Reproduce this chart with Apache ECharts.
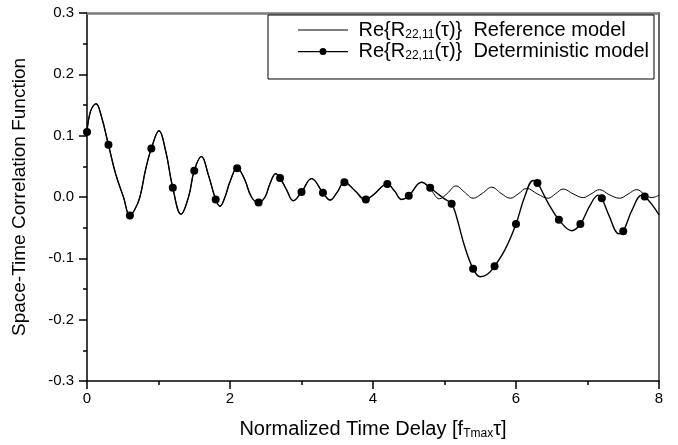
<!DOCTYPE html>
<html>
<head>
<meta charset="utf-8">
<script src="https://cdn.jsdelivr.net/npm/echarts@6/dist/echarts.min.js"></script>
<style>html,body{margin:0;padding:0;background:#fff}#c{width:678px;height:445px}</style>
</head>
<body>
<div id="c"></div>
<script>
// Reference model curve [tau, value]
const refCurve = [
 [0,0.106],[0.05,0.140],[0.126,0.152],[0.2,0.132],[0.3,0.085],[0.4,0.038],[0.51,0.0],[0.6,-0.031],
 [0.67,-0.020],[0.74,0.0],[0.82,0.045],[0.9,0.079],[1.007,0.108],[1.1,0.075],[1.2,0.015],[1.315,-0.028],
 [1.42,0.0],[1.5,0.043],[1.6,0.066],[1.7,0.035],[1.8,-0.004],[1.86,-0.015],[1.93,0.0],[2.0,0.025],
 [2.1,0.047],[2.2,0.030],[2.3,0.0],[2.4,-0.009],[2.49,0.0],[2.56,0.022],[2.64,0.038],[2.7,0.031],
 [2.79,0.012],[2.885,-0.006],[3.0,0.008],[3.14,0.030],[3.3,0.007],[3.4,-0.005],[3.5,0.008],[3.6,0.024],
 [3.75,0.010],[3.88,-0.005],[4.0,0.003],[4.2,0.021],[4.3,0.010],[4.4,-0.004],[4.5,0.002],[4.68,0.024],
 [4.8,0.013],[4.93,-0.003],[5.04,0.006],[5.16,0.018],[5.28,0.008],[5.4,-0.002],[5.53,0.006],[5.66,0.016],
 [5.79,0.006],[5.92,-0.002],[6.03,0.005],[6.15,0.014],[6.3,0.005],[6.45,-0.002],[6.55,0.005],[6.66,0.013],
 [6.8,0.005],[6.94,-0.001],[7.05,0.005],[7.17,0.012],[7.3,0.004],[7.45,-0.002],[7.57,0.005],[7.69,0.012],
 [7.8,0.004],[7.9,-0.001],[8.0,0.003]
];
// Deterministic model: curve beyond the point where it departs from the reference
const detSplit = 4.75;
const detTail = [
 [4.93,0.003],[5.0,-0.003],[5.17,-0.033],[5.28,-0.080],[5.5,-0.130],[5.6,-0.126],[5.85,-0.085],
 [6.12,0.0],[6.24,0.027],[6.45,-0.010],[6.78,-0.055],[7.03,-0.015],[7.15,0.003],[7.3,-0.030],
 [7.44,-0.060],[7.62,-0.022],[7.76,0.003],[7.9,-0.012],[8.0,-0.029]
];
// Deterministic model markers
const detMarkers = [
 [0,0.106],[0.3,0.085],[0.6,-0.030],[0.9,0.079],[1.2,0.015],[1.5,0.043],[1.8,-0.004],[2.1,0.047],
 [2.4,-0.009],[2.7,0.031],[3.0,0.008],[3.3,0.007],[3.6,0.024],[3.9,-0.004],[4.2,0.021],[4.5,0.002],
 [4.8,0.015],[5.1,-0.011],[5.4,-0.117],[5.7,-0.113],[6.0,-0.044],[6.3,0.023],[6.6,-0.037],[6.9,-0.044],
 [7.2,-0.002],[7.5,-0.056],[7.8,0.001]
];
const xTicks = {min:0, max:8, interval:2};
const yTicks = {min:-0.3, max:0.3, interval:0.1};

const nearMarker = x => detMarkers.some(m => Math.abs(m[0]-x) < 0.035);
const detPts = refCurve.filter(p => p[0] < detSplit && !nearMarker(p[0])).map(p => ({value:p, symbol:'none'}))
  .concat(detTail.filter(p => !nearMarker(p[0])).map(p => ({value:p, symbol:'none'})))
  .concat(detMarkers.map(p => ({value:p, symbol:'circle'})))
  .sort((a,b) => a.value[0]-b.value[0]);

const FF = '"Liberation Sans", Arial, sans-serif';
const chart = echarts.init(document.getElementById('c'), null, {renderer:'canvas'});
chart.setOption({
  animation:false,
  backgroundColor:'#fff',
  textStyle:{fontFamily:FF},
  grid:{left:87, right:19, top:13, bottom:60},
  legend:{
    left:268, top:15, orient:'vertical', padding:[5,5,17,30], itemGap:1,
    itemWidth:50, itemHeight:9, borderColor:'#000', borderWidth:1, backgroundColor:'#fff',
    data:[
      {name:'ref', icon:'path://M0,4 H50 V5 H0 Z'},
      {name:'det', icon:'path://M0,4 H50 V5.3 H0 Z M28.5,4.5 A3.5,3.5 0 1 1 21.5,4.5 A3.5,3.5 0 1 1 28.5,4.5 Z'}
    ],
    formatter: n => n==='ref' ? ' Re{R{sub|22,11}(τ)}  Reference model' : ' Re{R{sub|22,11}(τ)}  Deterministic model',
    textStyle:{fontFamily:FF, fontSize:20, color:'#000', rich:{sub:{fontFamily:FF, fontSize:12, color:'#000', padding:[9,0,0,0]}}}
  },
  xAxis:[{
    type:'value', min:xTicks.min, max:xTicks.max, interval:xTicks.interval,
    name:'{n|Normalized Time Delay [f}{s|Tmax}{n|τ]}', nameLocation:'middle', nameGap:37,
    nameTextStyle:{rich:{n:{fontFamily:FF, fontSize:20, color:'#000'}, s:{fontFamily:FF, fontSize:12, color:'#000', padding:[10,0,0,0]}}},
    axisLine:{onZero:false, lineStyle:{color:'#000', width:1.5}},
    axisTick:{inside:false, length:8, lineStyle:{color:'#000', width:1.5}},
    minorTick:{show:true, splitNumber:2, length:4, lineStyle:{color:'#000', width:1.5}},
    axisLabel:{fontFamily:FF, fontSize:15, color:'#000', margin:10},
    splitLine:{show:false}
  },{
    type:'value', position:'top', min:xTicks.min, max:xTicks.max,
    axisLine:{onZero:false, lineStyle:{color:'#7a7a7a', width:2.5}},
    axisTick:{show:false}, axisLabel:{show:false}, splitLine:{show:false}
  }],
  yAxis:[{
    type:'value', min:yTicks.min, max:yTicks.max, interval:yTicks.interval,
    name:'Space-Time Correlation Function', nameLocation:'middle', nameGap:58,
    nameTextStyle:{fontFamily:FF, fontSize:19, color:'#000'},
    axisLine:{onZero:false, lineStyle:{color:'#000', width:1.5}},
    axisTick:{inside:false, length:8, lineStyle:{color:'#000', width:1.5}},
    minorTick:{show:true, splitNumber:2, length:4, lineStyle:{color:'#000', width:1.5}},
    axisLabel:{fontFamily:FF, fontSize:15, color:'#000', margin:13, formatter:v => v.toFixed(1)},
    splitLine:{show:false}
  },{
    type:'value', position:'right', min:yTicks.min, max:yTicks.max,
    axisLine:{onZero:false, lineStyle:{color:'#333', width:1.5}},
    axisTick:{show:false}, axisLabel:{show:false}, splitLine:{show:false}
  }],
  series:[{
    name:'ref', type:'line', data:refCurve, smooth:0.4, symbol:'none',
    lineStyle:{color:'#000', width:1}, itemStyle:{color:'#000'}, z:2
  },{
    name:'det', type:'line', data:detPts, smooth:0.4, symbol:'circle', symbolSize:8, showSymbol:true, showAllSymbol:true,
    lineStyle:{color:'#000', width:1.4}, itemStyle:{color:'#000'}, z:3
  }]
});
</script>
</body>
</html>
